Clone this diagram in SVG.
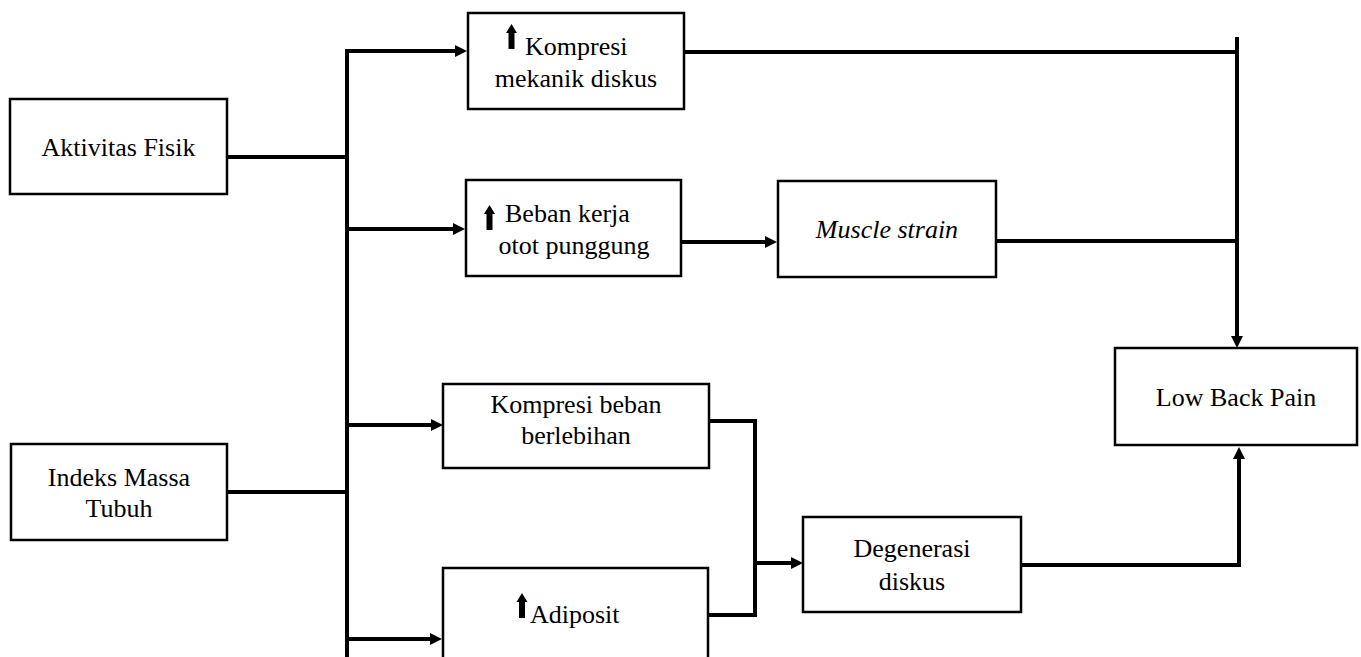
<svg xmlns="http://www.w3.org/2000/svg" xmlns:xlink="http://www.w3.org/1999/xlink" width="1361" height="657" viewBox="0 0 1361 657">
<style>
.box{fill:#fff;stroke:#000;stroke-width:2.5}
text{font-family:'Liberation Serif','DejaVu Serif',serif;font-size:26px;fill:#000}
.c{text-anchor:middle}
.i{font-style:italic}
.ln{fill:none;stroke:#000;stroke-width:4;stroke-linejoin:miter}
.ar{marker-end:url(#ah)}
</style>
<defs>
<marker id="ah" markerUnits="userSpaceOnUse" markerWidth="13" markerHeight="13" refX="0" refY="6" orient="auto" overflow="visible">
<path d="M0,0 L12,6 L0,12 Z" fill="#000"/>
</marker>
<path id="up" d="M0,0 L5.5,9 L3,9 L3,25 L-3,25 L-3,9 L-5.5,9 Z" fill="#000"/>
</defs>
<rect width="1361" height="657" fill="#fff"/>
<g id="connectors">
<path class="ln" d="M227,157 H347"/>
<path class="ln" d="M227,492 H347"/>
<path class="ln" d="M347,50 V657"/>
<path class="ln ar" d="M345,51 H455"/>
<path class="ln ar" d="M347,229 H453"/>
<path class="ln ar" d="M347,425 H431"/>
<path class="ln ar" d="M347,639 H430"/>
<path class="ln ar" d="M681,242 H765"/>
<path class="ln" d="M684,52 H1237"/>
<path class="ln" d="M996,241 H1237"/>
<path class="ln ar" d="M1237,37 V336"/>
<path class="ln" d="M709,421 H755 V615 H707"/>
<path class="ln ar" d="M755,563 H791"/>
<path class="ln ar" d="M1021,565 H1239 V459"/>
</g>
<g id="aktivitas-fisik">
<rect class="box" x="10" y="99" width="217" height="95"/>
<text class="c" font-family="Liberation Serif, serif" x="118.5" y="156">Aktivitas Fisik</text>
</g>
<g id="indeks-massa-tubuh">
<rect class="box" x="11" y="444" width="216" height="96"/>
<text class="c" x="119" y="486">Indeks Massa</text>
<text class="c" x="119" y="517">Tubuh</text>
</g>
<g id="kompresi-mekanik">
<rect class="box" x="468" y="13" width="216" height="96"/>
<use xlink:href="#up" x="511.5" y="24"/>
<text x="525" y="55">Kompresi</text>
<text class="c" x="576" y="87">mekanik diskus</text>
</g>
<g id="beban-kerja">
<rect class="box" x="466" y="180" width="215" height="96"/>
<use xlink:href="#up" x="489.5" y="205"/>
<text x="505" y="222">Beban kerja</text>
<text class="c" x="574" y="254">otot punggung</text>
</g>
<g id="muscle-strain">
<rect class="box" x="778" y="181" width="218" height="96"/>
<text class="c i" x="887" y="238">Muscle strain</text>
</g>
<g id="kompresi-beban">
<rect class="box" x="443" y="384" width="266" height="84"/>
<text class="c" x="576" y="413">Kompresi beban</text>
<text class="c" x="576" y="444">berlebihan</text>
</g>
<g id="adiposit">
<rect class="box" x="443" y="568" width="265" height="95"/>
<use xlink:href="#up" x="522" y="593"/>
<text x="530" y="623">Adiposit</text>
</g>
<g id="degenerasi-diskus">
<rect class="box" x="803" y="517" width="218" height="95"/>
<text class="c" x="912" y="557">Degenerasi</text>
<text class="c" x="912" y="590">diskus</text>
</g>
<g id="low-back-pain">
<rect class="box" x="1115" y="348" width="242" height="97"/>
<text class="c" x="1236" y="406">Low Back Pain</text>
</g>
</svg>
